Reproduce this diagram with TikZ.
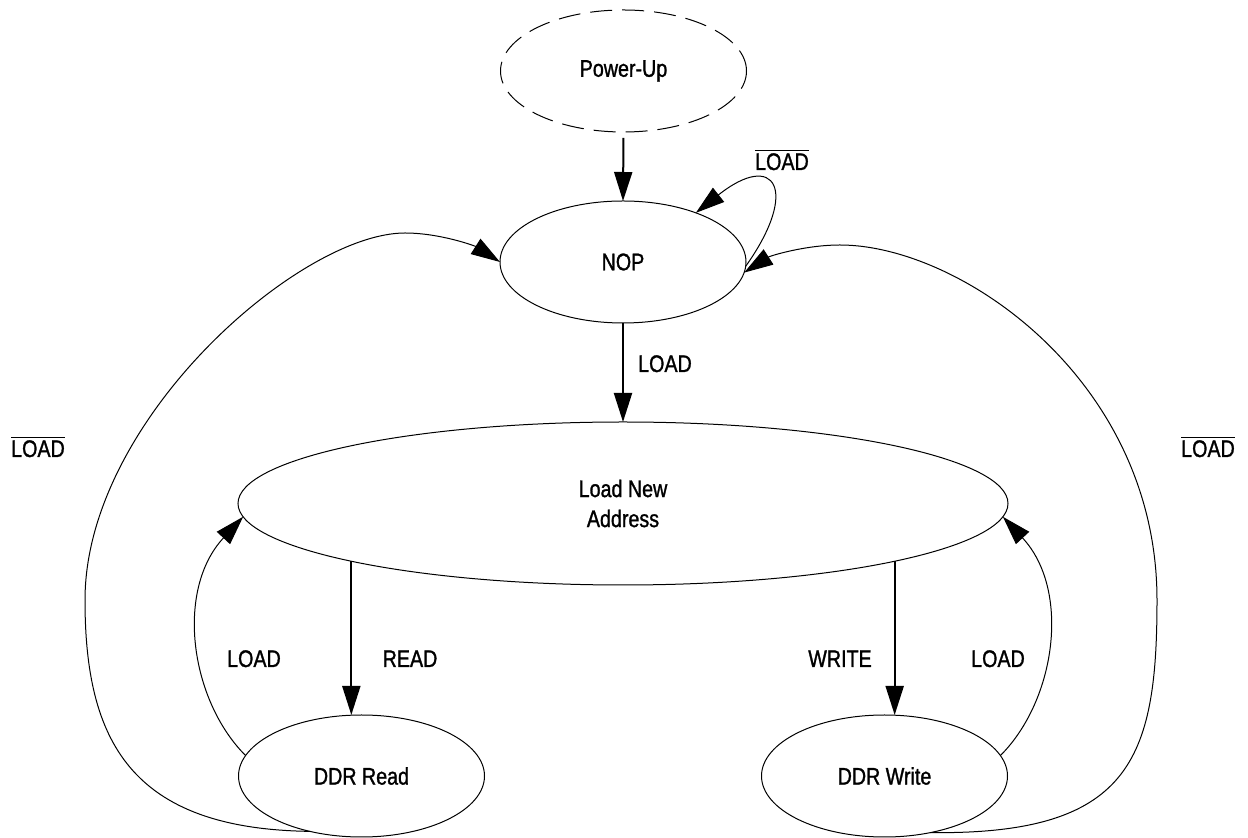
\documentclass[tikz,border=0pt]{standalone}
\usepackage{fontspec}
\setmainfont[FakeStretch=0.82,FakeBold=1.2]{Liberation Sans}
\usetikzlibrary{shapes.geometric,arrows.meta}
\newcommand\dfont{\fontsize{12}{15}\selectfont}
\tikzset{
  state/.style={ellipse, draw, line width=0.5pt, minimum width=123pt, minimum height=61pt,
    inner sep=0pt, outer sep=0pt, font=\dfont, align=center},
  arr/.style={-{Triangle[length=14.5pt,width=9pt]}},
  thickarr/.style={arr, line width=1pt},
  thinarr/.style={arr, line width=0.5pt},
  lbl/.style={inner sep=0pt, outer sep=0pt, anchor=base, font=\dfont}
}
\begin{document}
\begin{tikzpicture}[x=0.5pt,y=-0.5pt]
\useasboundingbox (0,0) rectangle (1248,838);
% states
\node[state, dash pattern=on 11pt off 5pt] (pu) at (623.5,71) {Power-Up};
\node[state] (nop) at (623,262) {NOP};
\node[state, minimum width=385pt, minimum height=81.5pt] (lna) at (623,503.5) {Load New\\Address};
\node[state] (ddrr) at (361.5,776) {DDR Read};
\node[state] (ddrw) at (884.5,776) {DDR Write};
% straight transitions
\draw[thickarr, shorten <=3pt] (pu.south) -- (nop.north);
\draw[thickarr] (nop.south) -- (lna.north);
\draw[thickarr] (lna.192.65) -- (lna.192.65 |- ddrr.north);
\draw[thickarr] (lna.-12.65) -- (lna.-12.65 |- ddrw.north);
% self loop on NOP
\draw[thinarr] (nop.-2) .. controls (800,190) and (775,150) .. (nop.34);
% LOAD back to LNA
\draw[thinarr] (ddrr.170) .. controls (190,700) and (175,590) .. (lna.182);
\draw[thinarr] (ddrw.10) .. controls (1056,700) and (1071,590) .. (lna.-2);
% big loops back to NOP
\coordinate (l1) at (85,600);
\coordinate (l2) at (405,233);
\draw[thinarr] (ddrr.227) .. controls (130,829) and (85,740) .. (l1)
  .. controls (85,420) and (300,233) .. (l2)
  .. controls (440,233) and (475,246) .. (nop.west);
\coordinate (r1) at (1157,600);
\coordinate (r2) at (840,245);
\draw[thinarr] (ddrw.309) .. controls (1130,835) and (1157,760) .. (r1)
  .. controls (1157,380) and (960,245) .. (r2)
  .. controls (805,245) and (770,256) .. (nop.-5);
% labels
\node[lbl] (t1) at (782,170) {$\overline{\hbox{LOAD}}$};
\node[lbl] (t2) at (38,457) {$\overline{\hbox{LOAD}}$};
\node[lbl] (t3) at (1208,457) {$\overline{\hbox{LOAD}}$};
\node[lbl] (t4) at (665,372) {LOAD};
\node[lbl] (t5) at (254,667) {LOAD};
\node[lbl] (t6) at (410,667) {READ};
\node[lbl] (t7) at (840,667) {WRITE};
\node[lbl] (t8) at (998,667) {LOAD};
\end{tikzpicture}
\end{document}
